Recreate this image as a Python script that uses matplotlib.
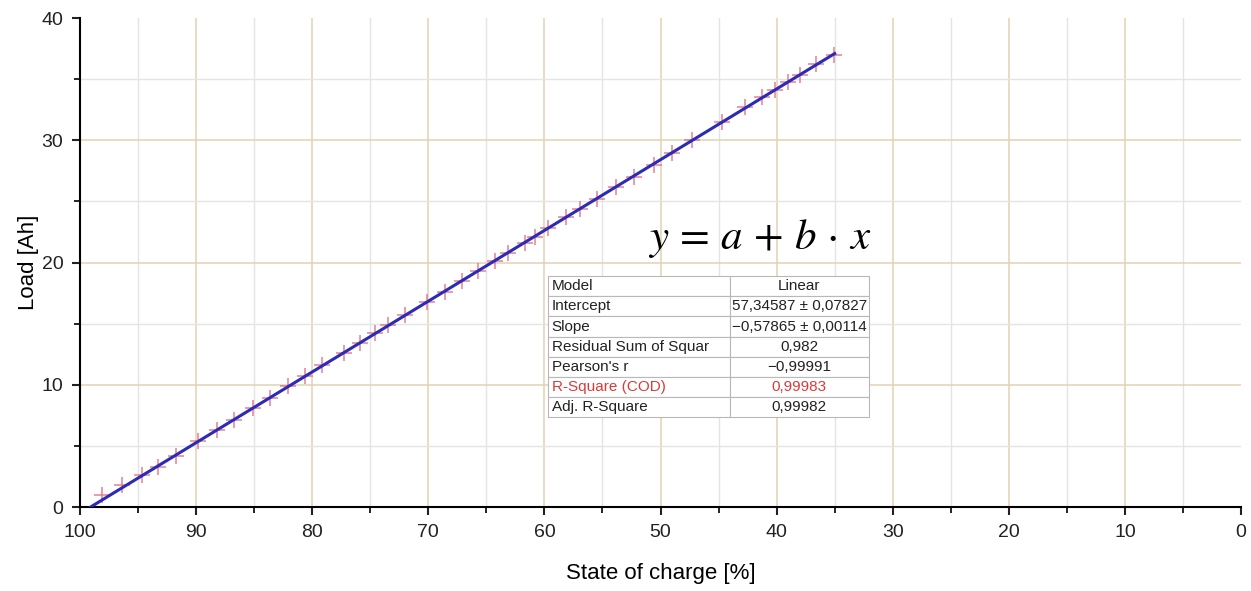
"""Load vs state of charge with linear fit and fit-statistics table."""
import numpy as np
import matplotlib; matplotlib.use('Agg')
import matplotlib.pyplot as plt
from matplotlib.ticker import MultipleLocator

plt.rcParams['font.family'] = ['Liberation Sans', 'DejaVu Sans']
plt.rcParams['mathtext.fontset'] = 'stix'

# measured points (state of charge [%], load [Ah])
soc = [98.1, 96.4, 94.7, 93.3, 91.7, 89.8, 88.2, 86.7, 85.1, 83.6, 82.1, 80.6,
       79.2, 77.3, 75.9, 74.6, 73.5, 72.0, 70.1, 68.6, 67.1, 65.7, 64.3, 63.1,
       61.7, 60.8, 59.7, 58.1, 56.9, 55.5, 53.8, 52.3, 50.6, 49.0, 47.3, 44.7,
       42.7, 41.3, 40.1, 39.0, 38.0, 36.6, 35.1]
load = [1.0, 1.8, 2.6, 3.3, 4.2, 5.4, 6.3, 7.1, 8.1, 8.9, 9.9, 10.7,
        11.6, 12.6, 13.4, 14.2, 14.9, 15.7, 16.8, 17.6, 18.5, 19.3, 20.1, 20.8,
        21.6, 22.1, 22.8, 23.7, 24.4, 25.2, 26.2, 27.0, 28.0, 29.0, 30.0, 31.5,
        32.7, 33.5, 34.1, 34.8, 35.3, 36.2, 37.0]

# fit result (from the table)
intercept = 57.34587
slope = -0.57865
fit_range = [99.1, 35.0]

table_rows = ['Model', 'Intercept', 'Slope', 'Residual Sum of Squar',
              "Pearson's r", 'R-Square (COD)', 'Adj. R-Square']
table_vals = ['Linear', '57,34587 \u00b1 0,07827', '\u22120,57865 \u00b1 0,00114',
              '0,982', '\u22120,99991', '0,99983', '0,99982']

fig = plt.figure(figsize=(12.51, 5.91), dpi=100)
ax = fig.add_axes([0.064, 0.142, 0.928, 0.8275])

ax.plot(soc, load, ls='none', marker='+', ms=11, mew=1.1, color='#e0607a',
        alpha=0.8, zorder=3)
fx = np.array(fit_range)
ax.plot(fx, intercept + slope * fx, color='#2b2bb5', lw=2.2, zorder=4)

ax.set_xlim(100, 0)
ax.set_ylim(0, 40)
ax.xaxis.set_major_locator(MultipleLocator(10))
ax.xaxis.set_minor_locator(MultipleLocator(5))
ax.yaxis.set_major_locator(MultipleLocator(10))
ax.yaxis.set_minor_locator(MultipleLocator(5))
ax.grid(which='major', color='#e3d2b4', lw=1.1)
ax.grid(which='minor', color='#e4e4e4', lw=1.0)
ax.set_axisbelow(True)
for sp in ['top', 'right']:
    ax.spines[sp].set_visible(False)
for sp in ['left', 'bottom']:
    ax.spines[sp].set_linewidth(1.5)
ax.tick_params(which='major', direction='out', length=6, width=1.5,
               labelsize=14, colors='#222222', pad=6)
ax.tick_params(which='minor', direction='out', length=4, width=1.2)
ax.set_xlabel('State of charge [%]', fontsize=16, labelpad=16)
ax.set_ylabel('Load [Ah]', fontsize=16, labelpad=2)

# no grid lines on the open top/right edges
fig.canvas.draw()
for gl, t in zip(ax.yaxis.get_gridlines(), ax.get_yticks()):
    if t >= 40:
        gl.set_visible(False)
for gl, t in zip(ax.xaxis.get_gridlines(), ax.get_xticks()):
    if t <= 0:
        gl.set_visible(False)

ax.text(41.4, 22.0, r'$y\,=\,a\,+\,b\,\cdot\,x$', fontsize=31,
        ha='center', va='center')

tbl = ax.table(cellText=[[r, v] for r, v in zip(table_rows, table_vals)],
               bbox=[0.403, 0.184, 0.2765, 0.288], colWidths=[0.567, 0.433])
tbl.auto_set_font_size(False)
for (r, c), cell in tbl.get_celld().items():
    cell.set_edgecolor('#b8b8b8')
    cell.set_linewidth(0.8)
    cell.set_facecolor('white')
    cell.get_text().set_fontsize(11)
    cell.get_text().set_color('#d93a3a' if r == 5 else '#222222')
    if c == 0:
        cell.get_text().set_ha('left')
        cell.PAD = 0.02
    else:
        cell.get_text().set_ha('center')
tbl.set_zorder(5)

fig.savefig('out.png', dpi=100)
